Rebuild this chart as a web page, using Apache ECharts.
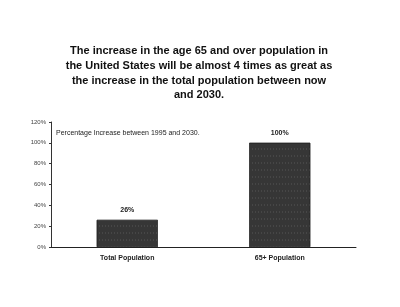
<!DOCTYPE html>
<html>
<head>
<meta charset="utf-8">
<script src="https://cdn.jsdelivr.net/npm/echarts@6/dist/echarts.min.js"></script>
<style>
  html, body { margin: 0; padding: 0; background: #fff; }
  #chart { width: 400px; height: 307px; }
</style>
</head>
<body>
<div id="chart"></div>
<script>
const categories = ["Total Population", "65+ Population"];
const increase = [26, 100];
const barLabels = ["26%", "100%"];

const chart = echarts.init(document.getElementById("chart"));

const options = {
  backgroundColor: "#ffffff",
  animation: false,
  title: {
    text: "The increase in the age 65 and over population in\nthe United States will be almost 4 times as great as\nthe increase in the total population between now\nand 2030.",
    left: 194,
    top: 39,
    textAlign: "center",
    textStyle: {
      fontFamily: "Liberation Sans",
      fontSize: 11,
      fontWeight: "bold",
      lineHeight: 14.7,
      color: "#111",
    },
  },
  graphic: [
    {
      type: "text",
      left: 56,
      top: 130,
      style: {
        text: "Percentage Increase between 1995 and 2030.",
        font: "7px Liberation Sans",
        fill: "#222",
      },
    },
  ],
  grid: {
    left: 51,
    right: 44,
    top: 122,
    bottom: 60,
  },
  xAxis: {
    type: "category",
    data: categories,
    axisLine: { lineStyle: { color: "#222", width: 1 } },
    axisTick: { show: false },
    axisLabel: {
      margin: 8,
      fontFamily: "Liberation Sans",
      fontSize: 7,
      fontWeight: "bold",
      color: "#222",
    },
  },
  yAxis: {
    type: "value",
    min: 0,
    max: 120,
    interval: 20,
    splitLine: { show: false },
    axisLine: { show: true, lineStyle: { color: "#333", width: 1 } },
    axisTick: { show: true, length: 2, lineStyle: { color: "#333" } },
    axisLabel: {
      formatter: "{value}%",
      margin: 5,
      fontFamily: "Liberation Sans",
      fontSize: 6,
      color: "#444",
    },
  },
  series: [
    {
      type: "bar",
      data: increase,
      barWidth: "40%",
      itemStyle: {
        color: "#363636",
        borderColor: "#222",
        borderWidth: 0.5,
        decal: {
          symbol: "rect",
          symbolSize: 0.5,
          color: "rgba(150,150,150,0.35)",
          dashArrayX: [1, 2],
          dashArrayY: [4, 3],
          rotation: 0,
        },
      },
      label: {
        show: true,
        position: "top",
        distance: 6,
        formatter: (p) => barLabels[p.dataIndex],
        fontFamily: "Liberation Sans",
        fontSize: 7,
        fontWeight: "bold",
        color: "#222",
      },
    },
  ],
};

chart.setOption(options);
</script>
</body>
</html>
